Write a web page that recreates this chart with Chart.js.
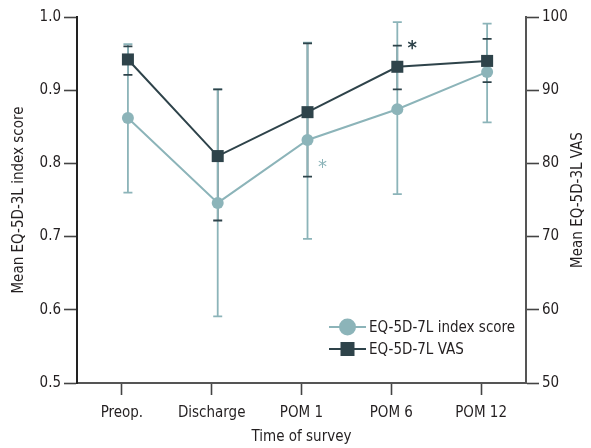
<!DOCTYPE html>
<html>
<head>
<meta charset="utf-8">
<script src="https://cdn.jsdelivr.net/npm/chart.js@4/dist/chart.umd.min.js"></script>
<style>
  html, body { margin: 0; padding: 0; background: #fff; }
  #wrap { width: 591px; height: 448px; }
</style>
</head>
<body>
<div id="wrap"><canvas id="surveyChart" width="591" height="448"></canvas></div>
<script>
// --- data ---
const categories = ["Preop.", "Discharge", "POM 1", "POM 6", "POM 12"];

const indexMean = [0.862, 0.746, 0.832, 0.874, 0.925];
const indexLow  = [0.760, 0.591, 0.697, 0.758, 0.856];
const indexHigh = [0.963, 0.901, 0.965, 0.993, 0.991];

const vasMean = [94.2, 81.0, 87.0, 93.2, 94.0];
const vasLow  = [92.1, 72.2, 78.2, 90.1, 91.1];
const vasHigh = [96.0, 90.1, 96.4, 96.1, 97.0];

// significance marks: category index, axis and value level
const stars = [
  { cat: 2, axis: "y",  value: 0.80, color: "teal" },
  { cat: 3, axis: "y2", value: 96.2, color: "dark" }
];

const teal = "#8cb4b9";
const dark = "#2e434a";
const textColor = "#231f20";
const fontFamily = "'Liberation Sans Narrow', 'DejaVu Sans Condensed', sans-serif";
const markerShift = 0.067; // markers sit a little right of the tick marks

function points(values) {
  return values.map((v, i) => ({ x: i + markerShift, y: v }));
}

// error bars + asterisks + legend drawn with the chart's own scales
const extras = {
  id: "extras",
  beforeDatasetsDraw(chart) {
    const ctx = chart.ctx;
    const xs = chart.scales.x, y1 = chart.scales.y, y2 = chart.scales.y2;
    const cap = 4.5;
    ctx.save();
    ctx.lineCap = "butt";
    // dark stems (hidden behind teal)
    ctx.strokeStyle = dark; ctx.lineWidth = 1.6;
    vasMean.forEach((m, i) => {
      const x = xs.getPixelForValue(i + markerShift);
      ctx.beginPath();
      ctx.moveTo(x, y2.getPixelForValue(vasLow[i]));
      ctx.lineTo(x, y2.getPixelForValue(vasHigh[i]));
      ctx.stroke();
    });
    // teal bars
    ctx.strokeStyle = teal; ctx.lineWidth = 1.8;
    indexMean.forEach((m, i) => {
      const x = xs.getPixelForValue(i + markerShift);
      const lo = y1.getPixelForValue(indexLow[i]);
      const hi = y1.getPixelForValue(indexHigh[i]);
      ctx.beginPath();
      ctx.moveTo(x, lo); ctx.lineTo(x, hi);
      ctx.moveTo(x - cap, lo); ctx.lineTo(x + cap, lo);
      ctx.moveTo(x - cap, hi); ctx.lineTo(x + cap, hi);
      ctx.stroke();
    });
    // dark caps on top
    ctx.strokeStyle = dark; ctx.lineWidth = 1.8;
    vasMean.forEach((m, i) => {
      const x = xs.getPixelForValue(i + markerShift);
      const lo = y2.getPixelForValue(vasLow[i]);
      const hi = y2.getPixelForValue(vasHigh[i]);
      ctx.beginPath();
      ctx.moveTo(x - cap, lo); ctx.lineTo(x + cap, lo);
      ctx.moveTo(x - cap, hi); ctx.lineTo(x + cap, hi);
      ctx.stroke();
    });
    ctx.restore();
  },
  afterDraw(chart) {
    const ctx = chart.ctx;
    const xs = chart.scales.x;
    const area = chart.chartArea;
    ctx.save();

    // asterisks
    stars.forEach(s => {
      const x = xs.getPixelForValue(s.cat + markerShift) + 15;
      const y = chart.scales[s.axis].getPixelForValue(s.value);
      ctx.fillStyle = s.color === "teal" ? teal : dark;
      ctx.font = (s.color === "teal" ? "" : "bold ") + "20px " + fontFamily;
      ctx.textAlign = "center";
      ctx.textBaseline = "middle";
      ctx.fillText("*", x, y + 4);
    });

    // legend
    const lx = area.right - 197, ly = area.bottom - 56;
    const items = [
      { label: "EQ-5D-7L index score", color: teal, shape: "circle" },
      { label: "EQ-5D-7L VAS", color: dark, shape: "square" }
    ];
    items.forEach((it, k) => {
      const y = ly + k * 22;
      ctx.strokeStyle = it.color; ctx.lineWidth = 2;
      ctx.beginPath(); ctx.moveTo(lx, y); ctx.lineTo(lx + 37, y); ctx.stroke();
      ctx.fillStyle = it.color;
      if (it.shape === "circle") {
        ctx.beginPath(); ctx.arc(lx + 18.5, y, 8.5, 0, Math.PI * 2); ctx.fill();
      } else {
        ctx.fillRect(lx + 11.5, y - 7, 14, 14);
      }
      ctx.fillStyle = textColor;
      ctx.font = "15px " + fontFamily;
      ctx.textAlign = "left";
      ctx.textBaseline = "middle";
      ctx.fillText(it.label, lx + 40, y + 1);
    });

    // right axis title (reads bottom to top)
    const y2 = chart.scales.y2;
    ctx.translate(578, (y2.top + y2.bottom) / 2);
    ctx.rotate(-Math.PI / 2);
    ctx.fillStyle = textColor;
    ctx.font = "15px " + fontFamily;
    ctx.textAlign = "center";
    ctx.textBaseline = "middle";
    ctx.fillText("Mean EQ-5D-3L VAS", 0, 0);
    ctx.restore();
  }
};

const tickFont = { family: fontFamily, size: 15 };

new Chart(document.getElementById("surveyChart"), {
  type: "line",
  data: {
    datasets: [
      {
        label: "EQ-5D-7L index score",
        data: points(indexMean),
        yAxisID: "y",
        borderColor: teal,
        backgroundColor: teal,
        borderWidth: 2,
        pointStyle: "circle",
        pointRadius: 6,
        pointBorderWidth: 0,
        order: 1
      },
      {
        label: "EQ-5D-7L VAS",
        data: points(vasMean),
        yAxisID: "y2",
        borderColor: dark,
        backgroundColor: dark,
        borderWidth: 2,
        pointStyle: "rect",
        pointRadius: 8.5,
        pointBorderWidth: 0,
        order: 0
      }
    ]
  },
  options: {
    responsive: false,
    animation: false,
    layout: { padding: { top: 17, left: 0, right: 0, bottom: 0 } },
    plugins: { legend: { display: false }, tooltip: { enabled: false } },
    scales: {
      x: {
        type: "linear",
        min: -0.5,
        max: 4.5,
        afterBuildTicks: (axis) => { axis.ticks = categories.map((c, i) => ({ value: i })); },
        afterFit: (axis) => { axis.height = 65; },
        ticks: {
          callback: (v) => categories[v],
          font: tickFont,
          color: textColor,
          padding: 9,
          maxRotation: 0
        },
        grid: { drawOnChartArea: false, tickLength: 12, tickWidth: 1.6, tickColor: "#444" },
        border: { color: "#555", width: 2 },
        title: { display: true, text: "Time of survey", font: tickFont, color: textColor, padding: { top: 0, bottom: 2 } }
      },
      y: {
        position: "left",
        min: 0.5,
        max: 1.0,
        afterFit: (axis) => { axis.width = 77; },
        ticks: {
          stepSize: 0.1,
          callback: (v) => v.toFixed(1),
          font: tickFont,
          color: textColor,
          padding: 3
        },
        grid: { drawOnChartArea: false, tickLength: 13, tickWidth: 1.6, tickColor: "#444" },
        border: { color: "#222", width: 2 },
        title: { display: true, text: "Mean EQ-5D-3L index score", font: tickFont, color: textColor, padding: { top: 10, bottom: 0 } }
      },
      y2: {
        position: "right",
        min: 50,
        max: 100,
        afterFit: (axis) => { axis.width = 65; },
        ticks: { stepSize: 10, font: tickFont, color: textColor, padding: 3 },
        grid: { drawOnChartArea: false, tickLength: 13, tickWidth: 1.6, tickColor: "#444" },
        border: { color: "#555", width: 2 }
      }
    }
  },
  plugins: [extras]
});
</script>
</body>
</html>
